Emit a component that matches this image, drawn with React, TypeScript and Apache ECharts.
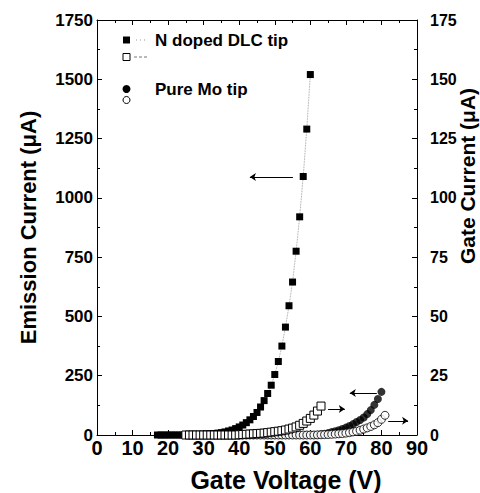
import React, { useEffect, useRef } from "react";
import * as echarts from "echarts";

// ---- Data ----
// N doped DLC tip: emission current (left axis, µA)
const dlcVoltage = [17, 18, 19, 20, 21, 22, 23, 24, 25, 26, 27, 28, 29, 30, 31, 32, 33, 34, 35, 36, 37, 38, 39, 40, 41, 42, 43, 44, 45, 46, 47, 48, 49, 50, 51, 52, 53, 54, 55, 56, 57, 58, 59, 60];
const dlcEmission = [0, 0, 0, 0, 0, 0, 0, 0, 0, 1, 1, 2, 2, 3, 4, 5, 6, 8, 10, 13, 17, 21, 27, 34, 42, 52, 64, 78, 95, 118, 145, 175, 210, 255, 310, 375, 455, 545, 645, 775, 920, 1090, 1290, 1520];

// N doped DLC tip: gate current (right axis, µA)
const dlcGateVoltage = [25, 26, 27, 28, 29, 30, 31, 32, 33, 34, 35, 36, 37, 38, 39, 40, 41, 42, 43, 44, 45, 46, 47, 48, 49, 50, 51, 52, 53, 54, 55, 56, 57, 58, 59, 60, 61, 62, 63];
const dlcGate = [0, 0, 0, 0, 0, 0, 0, 0, 0, 0, 0, 0, 0, 0, 0, 0.1, 0.2, 0.3, 0.4, 0.5, 0.6, 0.7, 0.8, 1.0, 1.2, 1.4, 1.6, 1.8, 2.1, 2.5, 2.9, 3.4, 4.1, 4.9, 5.9, 7.0, 8.4, 10.1, 12.2];

// Pure Mo tip: emission current (left axis, µA)
const moVoltage = [40, 41, 42, 43, 44, 45, 46, 47, 48, 49, 50, 51, 52, 53, 54, 55, 56, 57, 58, 59, 60, 61, 62, 63, 64, 65, 66, 67, 68, 69, 70, 71, 72, 73, 74, 75, 76, 77, 78, 79, 80];
const moEmission = [0, 0, 0, 0, 0, 0, 0, 0, 0, 0, 0, 0, 0, 0, 0, 0, 0, 0, 0, 0, 0, 0, 1, 3, 5, 8, 12, 16, 20, 25, 31, 38, 46, 55, 63, 74, 88, 105, 127, 152, 182];

// Pure Mo tip: gate current (right axis, µA)
const moGateVoltage = [40, 41, 42, 43, 44, 45, 46, 47, 48, 49, 50, 51, 52, 53, 54, 55, 56, 57, 58, 59, 60, 61, 62, 63, 64, 65, 66, 67, 68, 69, 70, 71, 72, 73, 74, 75, 76, 77, 78, 79, 80, 81];
const moGate = [0, 0, 0, 0, 0, 0, 0, 0, 0, 0, 0, 0, 0, 0, 0, 0, 0, 0, 0, 0, 0, 0, 0.05, 0.1, 0.15, 0.2, 0.3, 0.4, 0.5, 0.6, 0.8, 1.0, 1.3, 1.6, 2.0, 2.5, 3.0, 3.6, 4.3, 5.2, 6.6, 8.3];

// Annotation arrows [start, end] in data coordinates (arrow head at end)
const arrowDlcEmission = [[55.1, 1088], [43, 1088]];
const arrowDlcGate = [[65, 11], [69.7, 11]];
const arrowMoEmission = [[78.7, 177], [71.1, 177]];
const arrowMoGate = [[81.9, 6], [87.5, 6]];

// Axis ranges
const xTicks = { min: 0, max: 90, interval: 10 };
const leftTicks = { min: 0, max: 1750, interval: 250 };
const rightTicks = { min: 0, max: 175, interval: 25 };

const FONT = "'Liberation Sans', Arial, Helvetica, sans-serif";

function zip(xs: number[], ys: number[]) {
  return xs.map((x, i) => [x, ys[i]]);
}

function arrow(pts: number[][]) {
  return {
    silent: true,
    symbol: ["none", "arrow"],
    symbolSize: 6,
    label: { show: false },
    emphasis: { disabled: true },
    lineStyle: { color: "#000", width: 1, type: "solid" },
    data: [[{ coord: pts[0], symbol: "none" }, { coord: pts[1], symbol: "arrow", symbolSize: 6 }]],
  };
}

const axisCommon = {
  axisLine: { show: true, onZero: false, lineStyle: { color: "#000", width: 1 } },
  axisTick: { show: true, inside: true, length: 5, lineStyle: { color: "#000", width: 1 } },
  minorTick: { show: true, splitNumber: 2, length: 3, lineStyle: { color: "#000", width: 1 } },
  splitLine: { show: false },
  minorSplitLine: { show: false },
  nameMoveOverlap: false,
};

const labelStyle = (size: number, margin: number) => ({
  fontSize: size,
  fontWeight: "bold",
  fontFamily: FONT,
  color: "#000",
  margin,
  formatter: (v: number) => String(v),
});

const option: any = {
  animation: false,
  backgroundColor: "#fff",
  grid: { left: 97, right: 63, top: 20, bottom: 58, containLabel: false, outerBoundsMode: "none" },
  xAxis: [
    {
      type: "value",
      position: "bottom",
      ...xTicks,
      ...axisCommon,
      axisLabel: labelStyle(20, 3),
      name: "Gate Voltage (V)",
      nameLocation: "middle",
      nameGap: 32,
      nameTextStyle: { fontSize: 25, fontWeight: "bold", fontFamily: FONT, color: "#000", padding: [0, 0, 0, 58] },
    },
    {
      type: "value",
      position: "top",
      ...xTicks,
      ...axisCommon,
      axisLabel: { show: false },
    },
  ],
  yAxis: [
    {
      type: "value",
      position: "left",
      ...leftTicks,
      ...axisCommon,
      axisLabel: labelStyle(17, 4),
      name: "Emission Current (μA)",
      nameLocation: "middle",
      nameGap: 58,
      nameTextStyle: { fontSize: 22, fontWeight: "bold", fontFamily: FONT, color: "#000" },
    },
    {
      type: "value",
      position: "right",
      ...rightTicks,
      ...axisCommon,
      axisLabel: labelStyle(16, 13),
      name: "Gate Current (μA)",
      nameLocation: "middle",
      nameGap: 40,
      nameTextStyle: { fontSize: 21, fontWeight: "bold", fontFamily: FONT, color: "#000", padding: [0, 0, 0, 103] },
    },
  ],
  series: [
    {
      name: "N doped DLC tip",
      type: "line",
      xAxisIndex: 0,
      yAxisIndex: 0,
      data: zip(dlcVoltage, dlcEmission),
      symbol: "rect",
      symbolSize: 7,
      showAllSymbol: true,
      itemStyle: { color: "#000" },
      lineStyle: { color: "#888", width: 0.8, type: "dotted" },
      emphasis: { disabled: true },
      markLine: arrow(arrowDlcEmission),
    },
    {
      name: "Pure Mo tip",
      type: "scatter",
      xAxisIndex: 0,
      yAxisIndex: 0,
      data: zip(moVoltage, moEmission),
      symbol: "circle",
      symbolSize: 8,
      itemStyle: { color: "#000" },
      emphasis: { disabled: true },
      markLine: arrow(arrowMoEmission),
    },
    {
      name: "N doped DLC tip gate",
      type: "line",
      xAxisIndex: 0,
      yAxisIndex: 1,
      data: zip(dlcGateVoltage, dlcGate),
      symbol: "rect",
      symbolSize: 8,
      showAllSymbol: true,
      itemStyle: { color: "#fff", borderColor: "#000", borderWidth: 1 },
      lineStyle: { color: "#888", width: 0.8, type: "dashed" },
      emphasis: { disabled: true },
      markLine: arrow(arrowDlcGate),
    },
    {
      name: "Pure Mo tip gate",
      type: "scatter",
      xAxisIndex: 0,
      yAxisIndex: 1,
      data: zip(moGateVoltage, moGate),
      symbol: "circle",
      symbolSize: 8,
      itemStyle: { color: "#fff", borderColor: "#000", borderWidth: 1 },
      emphasis: { disabled: true },
      markLine: arrow(arrowMoGate),
    },
  ],
  graphic: [
    { type: "rect", shape: { x: 123, y: 36.5, width: 7, height: 7 }, style: { fill: "#000" } },
    { type: "line", shape: { x1: 136, y1: 40, x2: 145, y2: 40 }, style: { stroke: "#999", lineWidth: 1, lineDash: [1, 3] } },
    {
      type: "text",
      x: 155,
      y: 40,
      style: { text: "N doped DLC tip", fontSize: 17, fontWeight: "bold", fontFamily: FONT, fill: "#000", verticalAlign: "middle" },
    },
    { type: "rect", shape: { x: 123, y: 53.5, width: 7, height: 7 }, style: { fill: "#fff", stroke: "#000", lineWidth: 1 } },
    { type: "line", shape: { x1: 134, y1: 57, x2: 147, y2: 57 }, style: { stroke: "#777", lineWidth: 1, lineDash: [3, 2] } },
    { type: "circle", shape: { cx: 126.5, cy: 89, r: 4 }, style: { fill: "#000" } },
    { type: "circle", shape: { cx: 126.5, cy: 100, r: 3.5 }, style: { fill: "#fff", stroke: "#000", lineWidth: 1 } },
    {
      type: "text",
      x: 155,
      y: 89,
      style: { text: "Pure Mo tip", fontSize: 17, fontWeight: "bold", fontFamily: FONT, fill: "#000", verticalAlign: "middle" },
    },
  ],
};

export default function App() {
  const ref = useRef<HTMLDivElement>(null);
  useEffect(() => {
    if (!ref.current) return;
    const chart = echarts.init(ref.current, null, { renderer: "svg" });
    chart.setOption(option);
    return () => chart.dispose();
  }, []);
  return (
    <div
      ref={ref}
      style={{ position: "fixed", left: 0, top: 0, width: 480, height: 493, background: "#fff" }}
    />
  );
}
